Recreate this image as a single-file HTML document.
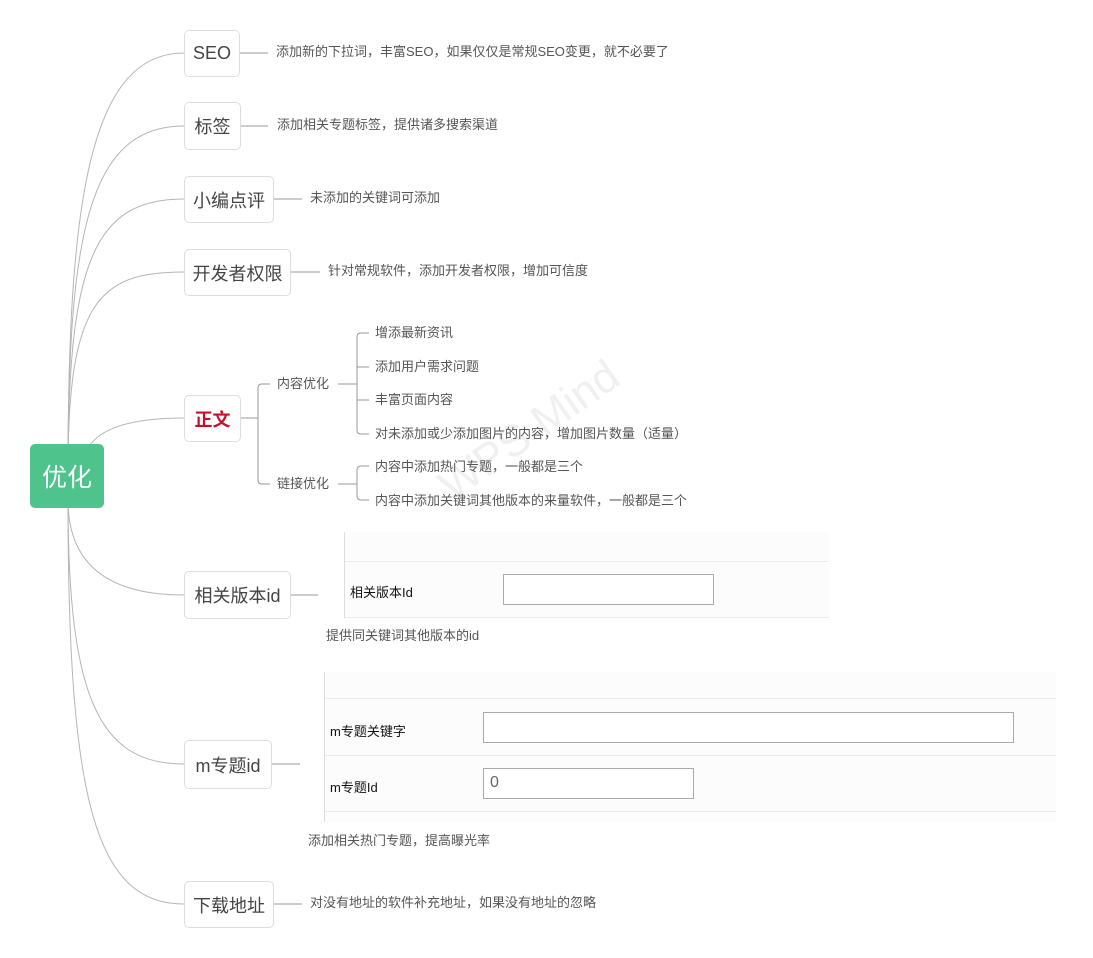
<!DOCTYPE html>
<html><head><meta charset="utf-8"><style>
body{margin:0;width:1093px;height:958px;background:#fff;position:relative;overflow:hidden;font-family:"Liberation Sans","Noto Sans CJK SC",sans-serif;}
.n{position:absolute;border:1.5px solid #ddd;border-radius:5px;background:#fff;color:#444;font-size:18px;display:flex;align-items:center;justify-content:center;box-sizing:border-box;}
.t{position:absolute;font-size:13px;color:#555;white-space:nowrap;line-height:16px;}
.shot{position:absolute;background:#fcfcfc;font-size:13px;color:#111;}
.row{position:absolute;left:0;right:0;border-bottom:1px solid #ececec;}
.inp{position:absolute;border:1px solid #aaa;background:#fff;box-sizing:border-box;}
</style></head><body>
<div style="position:absolute;left:430px;top:470px;font-size:44px;color:#f0f0f0;transform:rotate(-35deg);transform-origin:left top;">WPS Mind</div>
<svg width="1093" height="958" style="position:absolute;left:0;top:0" fill="none" stroke="#b5b5b5" stroke-width="1">
<path d="M68 470 C68 200 90 53 184 53"/>
<path d="M68 470 C68 230 90 126 184 126"/>
<path d="M68 470 C68 260 95 199 184 199"/>
<path d="M68 470 C68 300 100 272 184 272"/>
<path d="M90 445 Q110 418 184 418"/>
<path d="M68 500 Q68 595 184 595"/>
<path d="M68 500 C68 700 100 764 184 764"/>
<path d="M68 500 C68 800 95 904 184 904"/>
<g stroke="#999">
<path d="M240 53H268M241 126H268M274 199H302M291 272H320M274 904H302M291 595H318M272 764H300"/>
<path d="M241 418H258M270 384H262Q258 384 258 388V480Q258 484 262 484H270"/>
<path d="M338 384H357M369 333H361Q357 333 357 337V430Q357 434 361 434H369M357 367H369M357 400H369"/>
<path d="M338 484H357M369 466H361Q357 466 357 470V496Q357 500 361 500H369"/>
</g>
</svg>
<div class="n" style="left:30px;top:444px;width:74px;height:64px;background:#4fc38c;border:none;color:#fff;font-size:25px;">优化</div>
<div class="n" style="left:184px;top:30px;width:56px;height:47px;">SEO</div>
<div class="n" style="left:184px;top:102px;width:57px;height:48px;">标签</div>
<div class="n" style="left:184px;top:176px;width:90px;height:47px;">小编点评</div>
<div class="n" style="left:184px;top:249px;width:107px;height:47px;">开发者权限</div>
<div class="n" style="left:184px;top:395px;width:57px;height:47px;color:#c8102e;font-weight:bold;">正文</div>
<div class="n" style="left:184px;top:571px;width:107px;height:48px;">相关版本id</div>
<div class="n" style="left:184px;top:740px;width:88px;height:49px;">m专题id</div>
<div class="n" style="left:184px;top:881px;width:90px;height:47px;">下载地址</div>
<div class="t" style="left:276px;top:44px;">添加新的下拉词，丰富SEO，如果仅仅是常规SEO变更，就不必要了</div>
<div class="t" style="left:277px;top:117px;">添加相关专题标签，提供诸多搜索渠道</div>
<div class="t" style="left:310px;top:190px;">未添加的关键词可添加</div>
<div class="t" style="left:328px;top:263px;">针对常规软件，添加开发者权限，增加可信度</div>
<div class="t" style="left:277px;top:376px;">内容优化</div>
<div class="t" style="left:277px;top:476px;">链接优化</div>
<div class="t" style="left:375px;top:325px;">增添最新资讯</div>
<div class="t" style="left:375px;top:359px;">添加用户需求问题</div>
<div class="t" style="left:375px;top:392px;">丰富页面内容</div>
<div class="t" style="left:375px;top:426px;">对未添加或少添加图片的内容，增加图片数量（适量）</div>
<div class="t" style="left:375px;top:459px;">内容中添加热门专题，一般都是三个</div>
<div class="t" style="left:375px;top:493px;">内容中添加关键词其他版本的来量软件，一般都是三个</div>
<div class="shot" style="left:344px;top:532px;width:484px;height:86px;border-left:1px solid #ddd;">
<div class="row" style="top:0;height:29px;"></div>
<div style="position:absolute;left:5px;top:50px;">相关版本Id</div>
<div class="inp" style="left:158px;top:42px;width:211px;height:31px;"></div>
<div class="row" style="top:85px;height:0"></div>
</div>
<div class="t" style="left:326px;top:628px;">提供同关键词其他版本的id</div>
<div class="shot" style="left:324px;top:672px;width:731px;height:150px;border-left:1px solid #ddd;">
<div class="row" style="top:0;height:26px;"></div>
<div style="position:absolute;left:5px;top:49px;">m专题关键字</div>
<div class="inp" style="left:158px;top:40px;width:531px;height:31px;"></div>
<div class="row" style="top:83px;height:0"></div>
<div style="position:absolute;left:5px;top:105px;">m专题Id</div>
<div class="inp" style="left:158px;top:96px;width:211px;height:31px;color:#666;font-size:16px;padding:5px 0 0 6px;">0</div>
<div class="row" style="top:139px;height:0"></div>
</div>
<div class="t" style="left:308px;top:833px;">添加相关热门专题，提高曝光率</div>
<div class="t" style="left:310px;top:895px;">对没有地址的软件补充地址，如果没有地址的忽略</div>
</body></html>
